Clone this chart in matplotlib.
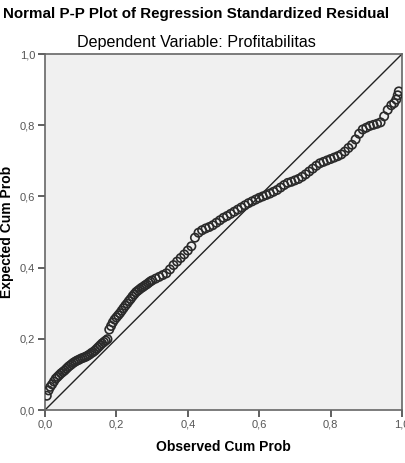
import matplotlib
matplotlib.use("Agg")
import matplotlib.pyplot as plt
from matplotlib.ticker import FuncFormatter

# observed vs expected cumulative probability
observed = [
    0.005, 0.010, 0.015, 0.020, 0.025, 0.030, 0.035, 0.040, 0.045, 0.050,
    0.055, 0.060, 0.065, 0.070, 0.075, 0.080, 0.085, 0.090, 0.095, 0.100,
    0.105, 0.110, 0.115, 0.120, 0.125, 0.130, 0.135, 0.140, 0.145, 0.150,
    0.155, 0.160, 0.165, 0.170, 0.175, 0.180, 0.185, 0.190, 0.195, 0.200,
    0.205, 0.210, 0.215, 0.220, 0.225, 0.230, 0.235, 0.240, 0.245, 0.250,
    0.255, 0.260, 0.265, 0.270, 0.275, 0.280, 0.285, 0.290, 0.295, 0.300,
    0.310, 0.320, 0.330, 0.340, 0.350, 0.360, 0.370, 0.380, 0.390, 0.400,
    0.410, 0.420, 0.430, 0.440, 0.450, 0.460, 0.470, 0.480, 0.490, 0.500,
    0.510, 0.520, 0.530, 0.540, 0.550, 0.560, 0.570, 0.580, 0.590, 0.600,
    0.610, 0.620, 0.630, 0.640, 0.650, 0.660, 0.670, 0.680, 0.690, 0.700,
    0.710, 0.720, 0.730, 0.740, 0.750, 0.760, 0.770, 0.780, 0.790, 0.800,
    0.810, 0.820, 0.830, 0.840, 0.850, 0.860, 0.870, 0.880, 0.890, 0.900,
    0.910, 0.920, 0.930, 0.940, 0.950, 0.960, 0.970, 0.978, 0.984, 0.988,
    0.991,
]
expected = [
    0.040, 0.055, 0.065, 0.072, 0.080, 0.088, 0.093, 0.098, 0.103, 0.107,
    0.111, 0.116, 0.121, 0.125, 0.129, 0.133, 0.136, 0.139, 0.141, 0.144,
    0.146, 0.148, 0.150, 0.153, 0.156, 0.160, 0.163, 0.167, 0.172, 0.177,
    0.182, 0.187, 0.191, 0.195, 0.199, 0.226, 0.236, 0.246, 0.254, 0.260,
    0.266, 0.272, 0.279, 0.286, 0.293, 0.299, 0.306, 0.312, 0.319, 0.325,
    0.331, 0.335, 0.339, 0.343, 0.346, 0.350, 0.353, 0.357, 0.361, 0.364,
    0.369, 0.374, 0.379, 0.384, 0.395, 0.407, 0.417, 0.427, 0.437, 0.448,
    0.460, 0.484, 0.498, 0.505, 0.510, 0.514, 0.519, 0.526, 0.533, 0.540,
    0.545, 0.551, 0.557, 0.563, 0.569, 0.575, 0.581, 0.586, 0.591, 0.596,
    0.600, 0.604, 0.608, 0.613, 0.618, 0.625, 0.632, 0.638, 0.641, 0.645,
    0.649, 0.655, 0.662, 0.670, 0.678, 0.686, 0.693, 0.697, 0.701, 0.705,
    0.709, 0.713, 0.718, 0.726, 0.736, 0.745, 0.760, 0.776, 0.788, 0.793,
    0.798, 0.801, 0.804, 0.808, 0.825, 0.843, 0.856, 0.862, 0.872, 0.884,
    0.895,
]
ticks = [0.0, 0.2, 0.4, 0.6, 0.8, 1.0]

plt.rcParams['font.family'] = ['Liberation Sans', 'DejaVu Sans']

fig = plt.figure(figsize=(4.06, 4.63), dpi=100)
ax = fig.add_axes([45 / 406, 1 - 410 / 463, 357 / 406, 356 / 463])
ax.set_facecolor('#f0f0f0')

ax.plot([0, 1], [0, 1], color='#222222', lw=1.0, zorder=2)
ax.scatter(observed, expected, s=36, facecolors='none', edgecolors='#2a2a2a',
           linewidths=1.2, zorder=3)

ax.set_xlim(0, 1)
ax.set_ylim(0, 1)
ax.set_xticks(ticks)
ax.set_yticks(ticks)
fmt = FuncFormatter(lambda v, p: f'{v:.1f}'.replace('.', ','))
ax.xaxis.set_major_formatter(fmt)
ax.yaxis.set_major_formatter(fmt)
ax.tick_params(direction='out', length=5, width=1.2, color='#444444',
               labelsize=8, labelcolor='#555555', pad=2)
for sp in ax.spines.values():
    sp.set_color('#666666')
    sp.set_linewidth(1.2)

ax.set_xlabel('Observed Cum Prob', fontsize=10, fontweight='bold')
ax.set_ylabel('Expected Cum Prob', fontsize=10, fontweight='bold')
ax.xaxis.set_label_coords(0.5, -0.084)
ax.yaxis.set_label_coords(-0.087, 0.5)

fig.text(0.483, 1 - 14 / 463, 'Normal P-P Plot of Regression Standardized Residual',
         ha='center', va='center', fontsize=10.9, fontweight='bold')
fig.text(0.485, 1 - 42 / 463, 'Dependent Variable: Profitabilitas',
         ha='center', va='center', fontsize=11.6)

fig.savefig('out.png', dpi=100)
